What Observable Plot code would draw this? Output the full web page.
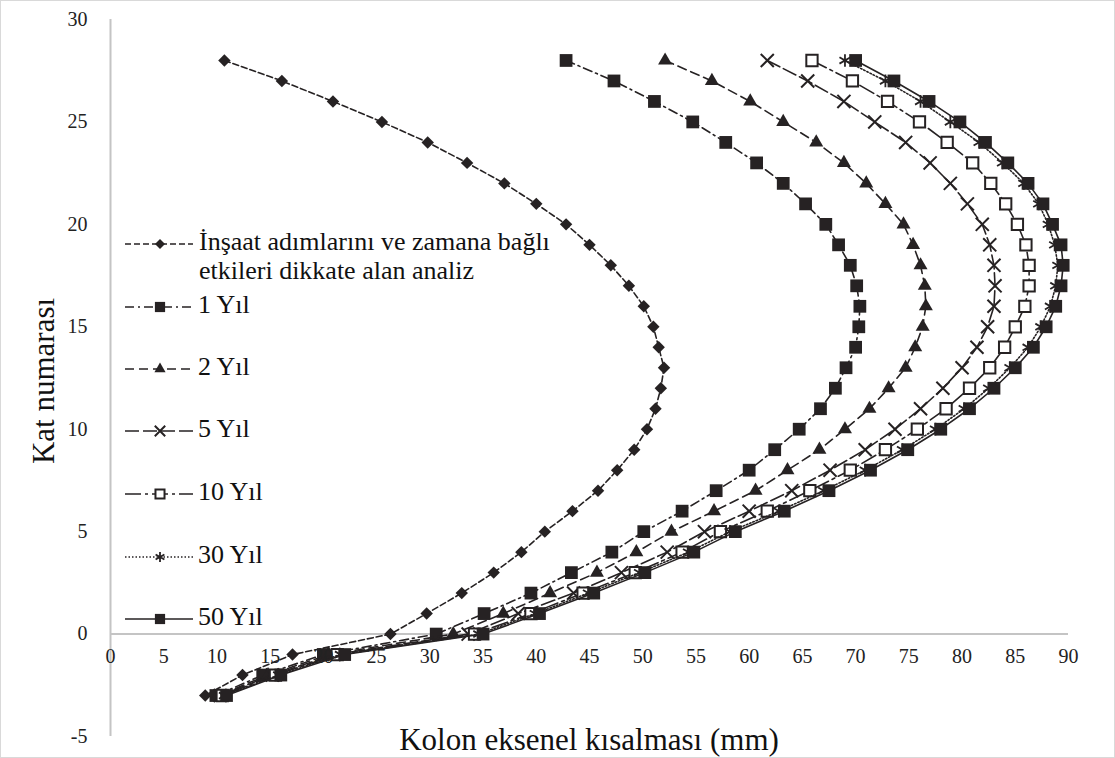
<!DOCTYPE html>
<html><head><meta charset="utf-8">
<script src="https://cdn.jsdelivr.net/npm/d3@7"></script>
<script src="https://cdn.jsdelivr.net/npm/@observablehq/plot@0.6"></script>
<style>
html,body{margin:0;padding:0;background:#fff;}
#wrap{position:relative;width:1115px;height:758px;overflow:hidden;}
#border{position:absolute;left:0;top:0;width:1113px;height:756px;border:1px solid #d9d9d9;pointer-events:none;}
svg{display:block;}
svg text, svg tspan{font-family:'Liberation Serif','Times New Roman',serif;}
</style></head><body><div id="wrap"><div id="border"></div></div>
<script>
// ---- Data (floor number vs axial shortening in mm) ----
const floors = [28,27,26,25,24,23,22,21,20,19,18,17,16,15,14,13,12,11,10,9,8,7,6,5,4,3,2,1,0,-1,-2,-3];
const insaat = [10.7,16.1,20.9,25.5,29.8,33.5,37.0,40.0,42.8,45.0,47.0,48.7,50.1,51.0,51.5,52.0,51.7,51.2,50.4,49.2,47.6,45.8,43.4,40.8,38.6,36.0,33.0,29.7,26.3,17.1,12.4,8.9];
const yil1 = [42.8,47.3,51.1,54.7,57.8,60.7,63.2,65.3,67.2,68.4,69.5,70.1,70.4,70.3,70.0,69.1,68.1,66.7,64.7,62.4,60.0,56.9,53.7,50.1,47.1,43.3,39.5,35.1,30.6,20.0,14.3,9.9];
const yil2 = [52.1,56.5,60.1,63.2,66.3,68.9,71.0,72.8,74.5,75.4,76.1,76.5,76.6,76.3,75.6,74.7,73.1,71.3,69.0,66.6,63.6,60.6,56.7,52.7,49.4,45.7,41.3,36.9,32.2,20.5,14.8,10.1];
const yil5 = [61.7,65.5,68.9,71.8,74.7,77.0,78.9,80.5,81.9,82.6,83.0,83.1,83.0,82.4,81.4,80.0,78.2,76.1,73.7,70.9,67.6,64.0,60.0,55.8,52.3,48.0,43.5,38.3,33.6,21.0,15.2,10.3];
const yil10 = [65.9,69.7,73.0,76.0,78.6,81.0,82.7,84.1,85.2,86.0,86.3,86.3,85.9,85.0,84.0,82.6,80.7,78.5,75.8,72.8,69.5,65.7,61.7,57.3,53.7,49.3,44.4,39.5,34.2,21.3,15.5,10.5];
const yil30 = [69.0,72.8,76.1,78.9,81.6,83.8,85.8,87.2,88.1,88.7,89.0,88.8,88.3,87.4,86.2,84.5,82.5,80.2,77.5,74.4,70.9,67.0,62.8,58.2,54.3,49.7,44.9,39.9,34.6,21.6,15.8,10.7];
const yil50 = [70.0,73.6,76.9,79.8,82.2,84.3,86.2,87.6,88.5,89.3,89.5,89.3,88.8,87.9,86.7,85.0,83.0,80.7,78.0,74.9,71.4,67.5,63.3,58.7,54.8,50.2,45.4,40.3,35.0,22.0,16.0,10.9];

const seriesNames = ["İnşaat adımlarını ve zamana bağlı etkileri dikkate alan analiz","1 Yıl","2 Yıl","5 Yıl","10 Yıl","30 Yıl","50 Yıl"];
const legendLines0 = ["İnşaat adımlarını ve zamana bağlı", "etkileri dikkate alan analiz"];
const seriesValues = [insaat, yil1, yil2, yil5, yil10, yil30, yil50];
const xTicks = [0,5,10,15,20,25,30,35,40,45,50,55,60,65,70,75,80,85,90];
const yTicks = [-5,0,5,10,15,20,25,30];
const xTitle = "Kolon eksenel kısalması (mm)";
const yTitle = "Kat numarası";

// ---- Styles ----
const ink = "#262223";
const FONT = "'Liberation Serif','Times New Roman',serif";
const styles = [
  {dash:"6,3",        symbol:"diamond2", r:5.6, fill:ink,    stroke:"none", sw:0},
  {dash:"9,4,2,4",    symbol:"square",   r:7.2, fill:ink,    stroke:"none", sw:0},
  {dash:"9,5",        symbol:"triangle", r:5.2, fill:ink,    stroke:"none", sw:0},
  {dash:"14,4",       symbol:"times",    r:6.0, fill:"none", stroke:ink,    sw:2},
  {dash:"16,4,3,4",   symbol:"square2",  r:7.2, fill:"#fff", stroke:ink,    sw:2},
  {dash:"1.5,2",      symbol:"asterisk", r:6.0, fill:"none", stroke:ink,    sw:1.8},
  {dash:null,         symbol:"square",   r:7.2, fill:ink,    stroke:"none", sw:0}
];

const table = [];
seriesNames.forEach((name, i) => {
  seriesValues[i].forEach((v, j) => table.push({series: name, idx: i, floor: floors[j], value: v}));
});

const marks = [
  Plot.ruleX([0], {stroke:"#c4c4c4", strokeWidth:2}),
  Plot.ruleY([0], {stroke:"#c4c4c4", strokeWidth:2}),
];
seriesNames.forEach((name, i) => {
  const st = styles[i];
  const rows = table.filter(d => d.idx === i);
  marks.push(Plot.line(rows, {x:"value", y:"floor", stroke:ink, strokeWidth:1.6, strokeDasharray: st.dash || undefined}));
  marks.push(Plot.dot(rows, {x:"value", y:"floor", symbol: () => st.symbol, r: st.r, fill: st.fill, stroke: st.stroke, strokeWidth: st.sw}));
});
marks.push(Plot.text(xTicks, {x: d => d, y: () => 0, text: d => String(d), dy: 23, fontSize: 20, fill:"#222", fontFamily: FONT}));
marks.push(Plot.text(yTicks, {x: () => 0, y: d => d, text: d => String(d), dx: -23, textAnchor: "end", fontSize: 20, fill:"#222", fontFamily: FONT}));

const chart = Plot.plot({
  width: 1115,
  height: 758,
  marginLeft: 110,
  marginRight: 47,
  marginTop: 19,
  marginBottom: 22,
  x: {domain: [0, 90], axis: null},
  y: {domain: [-5, 30], axis: null},
  symbol: {type: "identity"},
  style: {fontFamily: FONT, background: "transparent", overflow: "visible"},
  marks
});
document.getElementById("wrap").prepend(chart);

// ---- Titles and legend (layout elements) ----
const svg = d3.select(chart);
svg.append("text").attr("x", 589).attr("y", 750).attr("text-anchor", "middle")
  .attr("font-size", 31).attr("fill", "#111").text(xTitle);
svg.append("text").attr("transform", "translate(54,381) rotate(-90)").attr("text-anchor", "middle")
  .attr("font-size", 31).attr("fill", "#111").text(yTitle);

const symMap = {diamond2: d3.symbolDiamond2, square: d3.symbolSquare, triangle: d3.symbolTriangle, times: d3.symbolTimes, square2: d3.symbolSquare2, asterisk: d3.symbolAsterisk};
const legendRows = [242, 305, 367, 429, 492, 555, 617];
const lg = svg.append("g").attr("fill", "#111");
seriesNames.forEach((name, i) => {
  const st = styles[i];
  const y = legendRows[i];
  lg.append("line").attr("x1", 125).attr("x2", 193).attr("y1", y + 2).attr("y2", y + 2)
    .attr("stroke", ink).attr("stroke-width", 1.6).attr("stroke-dasharray", st.dash);
  const rr = st.r * 0.8;
  lg.append("path").attr("transform", `translate(160,${y + 2})`)
    .attr("d", d3.symbol(symMap[st.symbol], rr * rr * Math.PI)())
    .attr("fill", st.fill).attr("stroke", st.stroke === "none" ? null : st.stroke).attr("stroke-width", st.sw);
  if (i === 0) {
    const t = lg.append("text").attr("x", 199).attr("y", y).attr("dy", "0.32em").attr("text-anchor", "start").attr("font-size", 26);
    t.append("tspan").attr("x", 199).text(legendLines0[0]);
    t.append("tspan").attr("x", 199).attr("dy", 29).text(legendLines0[1]);
  } else {
    lg.append("text").attr("x", 198).attr("y", y).attr("dy", "0.32em").attr("text-anchor", "start").attr("font-size", 26).text(name);
  }
});
svg.selectAll("text").attr("font-family", FONT);
</script>
</body></html>
